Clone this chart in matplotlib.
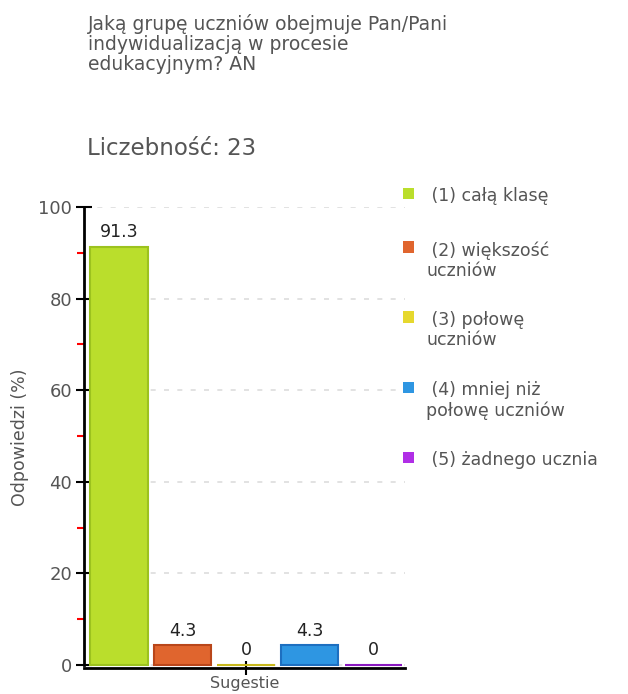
import matplotlib
matplotlib.use("Agg")
import matplotlib.pyplot as plt
from matplotlib.patches import Rectangle

# ---- data ----
title = "Jaką grupę uczniów obejmuje Pan/Pani\nindywidualizacją w procesie\nedukacyjnym? AN"
count_label = "Liczebność: 23"
categories = ["(1) całą klasę", "(2) większość\nuczniów", "(3) połowę\nuczniów",
              "(4) mniej niż\npołowę uczniów", "(5) żadnego ucznia"]
values = [91.3, 4.3, 0, 4.3, 0]
value_labels = ["91.3", "4.3", "0", "4.3", "0"]
colors = ["#bade2c", "#e0652e", "#e6d82e", "#2e96e2", "#b02ee6"]
edge_colors = ["#9cc21e", "#b9461a", "#c8b81c", "#1d6fc0", "#8a18c0"]
yticks = [0, 20, 40, 60, 80, 100]
yminor = [10, 30, 50, 70, 90]
ylabel = "Odpowiedzi (%)"
xlabel = "Sugestie"

W, H = 628, 694
fig = plt.figure(figsize=(W / 100, H / 100), dpi=100)
plt.rcParams['font.family'] = ['DejaVu Sans']

def px(x, y):
    return x / W, 1 - y / H

ax = fig.add_axes([84 / W, (H - 668) / H, (405 - 84) / W, (668 - 207) / H])
x = list(range(len(values)))
ax.bar(x, values, width=0.9, color=colors, edgecolor=edge_colors, linewidth=1.5,
       zorder=2, clip_on=False)
for xi, v, lab in zip(x, values, value_labels):
    ax.annotate(lab, (xi, v), xytext=(0, 4), textcoords="offset points",
                ha="center", va="bottom", fontsize=12.5, color="#222222")

ax.set_xlim(-0.55, 4.5)
ax.set_ylim(-0.65, 100)
ax.set_yticks(yticks)
ax.set_yticks(yminor, minor=True)
ax.set_xticks([2])
ax.set_xticklabels([""])
ax.tick_params(axis="y", which="major", direction="inout", length=11, width=1.5,
               colors="black", labelcolor="#555555", labelsize=13, pad=3)
ax.tick_params(axis="y", which="minor", direction="out", length=5, width=1.5, colors="red")
ax.tick_params(axis="x", which="major", direction="inout", length=10, width=1.5, colors="black")
for s in ["top", "right"]:
    ax.spines[s].set_visible(False)
for s in ["left", "bottom"]:
    ax.spines[s].set_linewidth(2)
    ax.spines[s].set_color("black")
ax.spines["left"].set_bounds(0, 100)
ax.yaxis.grid(True, which="major", color="#dddddd", linewidth=1.2,
              linestyle=(0, (3, 5)), zorder=0)
ax.set_axisbelow(True)
ax.set_ylabel(ylabel, fontsize=12.5, color="#555555", labelpad=7)
ax.set_xlabel(xlabel, fontsize=11.5, color="#555555", va="top")
ax.xaxis.set_label_coords(0.5, -8 / 461)

# title and count
fig.text(*px(88, 14), title, ha="left", va="top", fontsize=13.5, color="#555555",
         linespacing=1.05)
fig.text(*px(87, 137), count_label, ha="left", va="top", fontsize=16.5, color="#555555")

# legend
y = 193
for cat, c in zip(categories, colors):
    fig.add_artist(Rectangle(px(403, y + 5.5), 11 / W, 11 / H, transform=fig.transFigure,
                             facecolor=c, edgecolor="none"))
    fig.text(*px(426, y - 6), " " + cat, ha="left", va="top", fontsize=12.5,
             color="#555555", linespacing=1.15)
    y += 54 + 16 * cat.count("\n")

fig.savefig("out.png", dpi=100)
